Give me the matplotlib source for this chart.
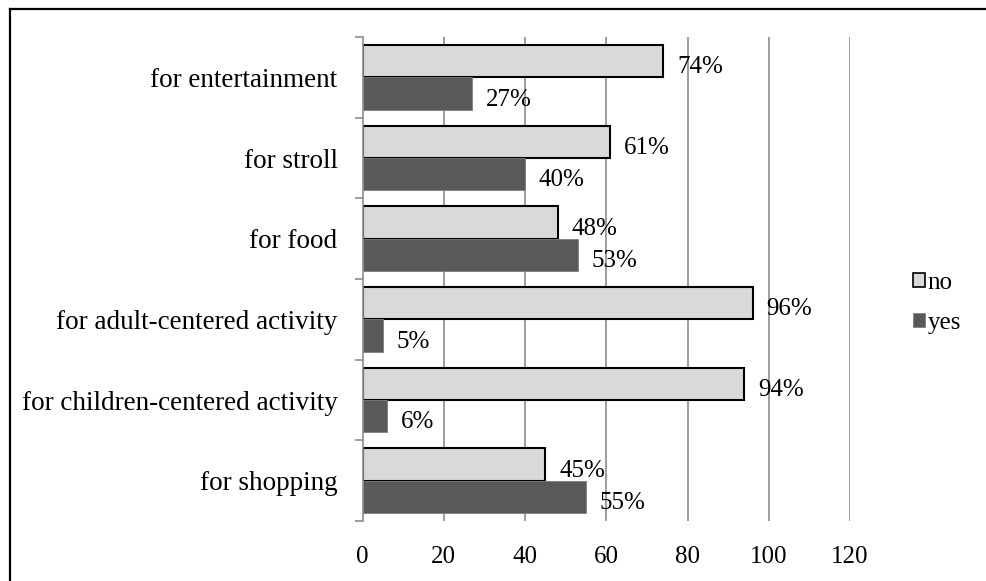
import matplotlib
matplotlib.use("Agg")
import matplotlib.pyplot as plt
from matplotlib.lines import Line2D
from matplotlib.patches import Patch
import numpy as np

plt.rcParams["font.family"] = ["Liberation Serif", "DejaVu Serif"]

categories = [
    "for entertainment",
    "for stroll",
    "for food",
    "for adult-centered activity",
    "for children-centered activity",
    "for shopping",
]
no_values = [74, 61, 48, 96, 94, 45]
yes_values = [27, 40, 53, 5, 6, 55]
x_ticks = [0, 20, 40, 60, 80, 100, 120]

NO_COLOR = "#d9d9d9"
YES_COLOR = "#595959"
GRID_COLOR = "#8c8c8c"
FS = 18

W, H = 986, 581
fig = plt.figure(figsize=(W / 100, H / 100), dpi=100)
ax = fig.add_axes([362.5 / W, 1 - 521 / H, (850 - 362.5) / W, (521 - 37) / H])

y = np.arange(len(categories))
bh = 0.4
ax.barh(y - bh / 2, no_values, height=bh, color=NO_COLOR, edgecolor="black", linewidth=1.5, zorder=3)
ax.barh(y + bh / 2, yes_values, height=bh, color=YES_COLOR, edgecolor="#7f7f7f", linewidth=0.6, zorder=3)

for yi, v in zip(y, no_values):
    ax.annotate(f"{v}%", (v, yi - bh / 2), xytext=(10, -4.5), textcoords="offset points",
                va="center", ha="left", fontsize=FS, zorder=4)
for yi, v in zip(y, yes_values):
    ax.annotate(f"{v}%", (v, yi + bh / 2), xytext=(10, -4.5), textcoords="offset points",
                va="center", ha="left", fontsize=FS, zorder=4)

ax.set_xlim(0, 120)
ax.set_ylim(len(categories) - 0.5, -0.5)
ax.set_xticks(x_ticks)
ax.set_xticklabels([str(t) for t in x_ticks], fontsize=FS)
ax.set_yticks(y)
ax.set_yticklabels(categories, fontsize=19.5)
ax.set_yticks(np.arange(-0.5, len(categories), 1.0), minor=True)

ax.tick_params(axis="x", length=0, pad=18)
ax.tick_params(axis="y", which="major", length=0, pad=18)
ax.tick_params(axis="y", which="minor", length=6, width=1.2, color=GRID_COLOR, direction="out")

for s in ["top", "right", "bottom"]:
    ax.spines[s].set_visible(False)
ax.spines["left"].set_color(GRID_COLOR)
ax.spines["left"].set_linewidth(1.2)
ax.spines["left"].set_zorder(5)

for t in x_ticks[1:]:
    ax.axvline(t, color=GRID_COLOR, linewidth=1.2, zorder=1)

handles = [
    Patch(facecolor=NO_COLOR, edgecolor="black", linewidth=1.2, label="no"),
    Patch(facecolor=YES_COLOR, edgecolor="#7f7f7f", linewidth=0.6, label="yes"),
]
fig.legend(handles=handles, loc="center left", bbox_to_anchor=(900 / W, 1 - 303 / H),
           frameon=False, fontsize=FS, handlelength=0.5, handleheight=0.5,
           handletextpad=0.1, labelspacing=0.7, borderpad=0)

# chart frame (left and top edges visible)
fig.add_artist(Line2D([10 / W, 10 / W], [0, 1 - 9 / H], transform=fig.transFigure,
                      color="black", linewidth=1.6))
fig.add_artist(Line2D([10 / W, 1], [1 - 9 / H, 1 - 9 / H], transform=fig.transFigure,
                      color="black", linewidth=1.6))

fig.savefig("out.png", dpi=100)
plt.close(fig)
